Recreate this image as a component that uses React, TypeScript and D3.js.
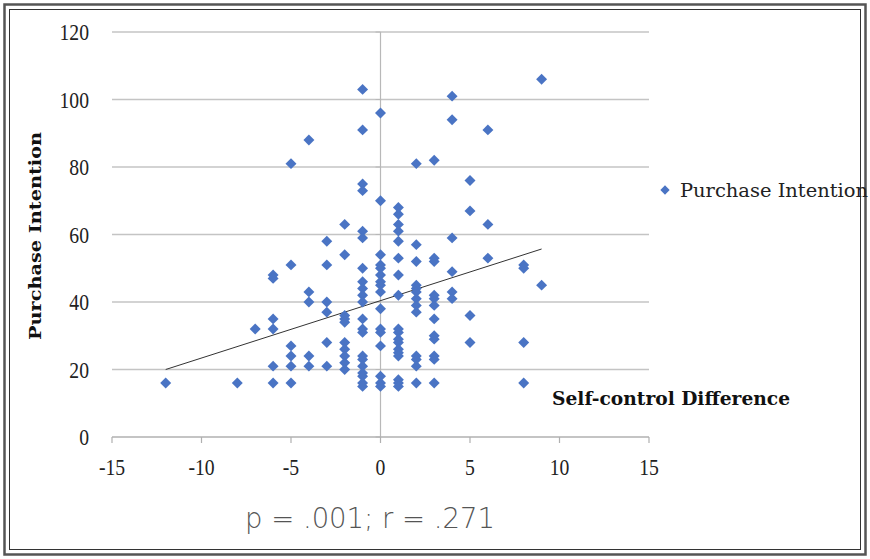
import React from 'react';
import * as d3 from 'd3';

// self-control difference (x) and purchase intention (y), one entry per respondent
const selfControlDiff = [
  -12, -8, -7,
  -6, -6, -6, -6, -6, -6,
  -5, -5, -5, -5, -5, -5,
  -4, -4, -4, -4, -4,
  -3, -3, -3, -3, -3, -3,
  -2, -2, -2, -2, -2, -2, -2, -2, -2, -2,
  -1, -1, -1, -1, -1, -1, -1, -1, -1, -1, -1, -1, -1, -1, -1, -1, -1, -1, -1, -1, -1,
  0, 0, 0, 0, 0, 0, 0, 0, 0, 0, 0, 0, 0, 0, 0, 0,
  1, 1, 1, 1, 1, 1, 1, 1, 1, 1, 1, 1, 1, 1, 1, 1, 1, 1,
  2, 2, 2, 2, 2, 2, 2, 2, 2, 2, 2, 2, 2,
  3, 3, 3, 3, 3, 3, 3, 3, 3, 3, 3, 3,
  4, 4, 4, 4, 4, 4,
  5, 5, 5, 5,
  6, 6, 6,
  8, 8, 8, 8,
  9, 9,
];

const purchaseIntention = [
  16, 16, 32,
  48, 47, 35, 32, 21, 16,
  81, 51, 27, 24, 21, 16,
  88, 43, 40, 24, 21,
  58, 51, 40, 37, 28, 21,
  63, 54, 36, 35, 34, 28, 26, 24, 22, 20,
  103, 91, 75, 73, 61, 59, 50, 46, 44, 42, 40, 35, 32, 31, 24, 23, 21, 19, 18, 16, 15,
  96, 70, 54, 51, 50, 48, 46, 45, 43, 38, 32, 31, 27, 18, 16, 15,
  68, 66, 63, 61, 58, 53, 48, 42, 32, 31, 29, 28, 26, 25, 24, 17, 16, 15,
  81, 57, 52, 45, 44, 43, 41, 39, 37, 24, 23, 21, 16,
  82, 53, 52, 42, 41, 39, 35, 30, 29, 24, 23, 16,
  101, 94, 59, 49, 43, 41,
  76, 67, 36, 28,
  91, 63, 53,
  51, 50, 28, 16,
  106, 45,
];

const xTicks = [-15, -10, -5, 0, 5, 10, 15];
const yTicks = [0, 20, 40, 60, 80, 100, 120];

// linear trendline
const trendRange = [-12, 9];
const trendIntercept = 40.4;
const trendSlope = 1.7;

const statsLabel = 'p = .001; r =  .271';

const App = () => {
  const x = d3.scaleLinear().domain([-15, 15]).range([112, 649]);
  const y = d3.scaleLinear().domain([0, 120]).range([437, 32]);
  const diamond = d3.symbol().type(d3.symbolSquare).size(60)();
  const blue = '#4a74c4';

  const points = selfControlDiff.map((d, i) => ({ d, v: purchaseIntention[i] }));
  const trend = d3.line<number>()
    .x((d) => x(d))
    .y((d) => y(trendIntercept + trendSlope * d));

  return (
    <svg width={870} height={559} style={{ position: 'absolute', left: 0, top: 0, background: '#fff' }}>
      {/* double frame */}
      <rect x={4.5} y={4.5} width={861} height={550} fill="none" stroke="#555" strokeWidth={2.5} />
      <rect x={9.5} y={9.5} width={851} height={540} fill="none" stroke="#333" strokeWidth={1} />

      {/* gridlines */}
      {yTicks.filter((t) => t > 0).map((t) => (
        <line key={t} x1={x(-15)} x2={x(15)} y1={y(t)} y2={y(t)} stroke="#c4c4c4" strokeWidth={1.5} />
      ))}
      {/* vertical axis through zero */}
      <line x1={x(0)} x2={x(0)} y1={y(120)} y2={y(0)} stroke="#b8b8b8" strokeWidth={1.2} />
      {yTicks.map((t) => (
        <line key={'yt' + t} x1={x(0) - 5} x2={x(0)} y1={y(t)} y2={y(t)} stroke="#b8b8b8" strokeWidth={1} />
      ))}
      {/* horizontal axis */}
      <line x1={x(-15)} x2={x(15)} y1={y(0)} y2={y(0)} stroke="#b0b0b0" strokeWidth={1.5} />
      {xTicks.map((t) => (
        <line key={'xt' + t} x1={x(t)} x2={x(t)} y1={y(0)} y2={y(0) + 6} stroke="#b0b0b0" strokeWidth={1.2} />
      ))}

      {/* tick labels, narrow tall serif digits */}
      <g fontFamily="'Liberation Serif', 'Times New Roman', serif" fontSize={24} fill="#222">
        {yTicks.map((t) => (
          <text key={'yl' + t} transform={`translate(89,${y(t) + 8}) scale(0.82,1)`} textAnchor="end">{t}</text>
        ))}
        {xTicks.map((t) => (
          <text key={'xl' + t} transform={`translate(${x(t)},475) scale(0.82,1)`} textAnchor="middle">{t}</text>
        ))}
      </g>

      {/* trendline */}
      <path d={trend(trendRange) || ''} fill="none" stroke="#333" strokeWidth={1} />

      {/* points */}
      {points.map((p, i) => (
        <path key={i} d={diamond} fill={blue}
          transform={`translate(${x(p.d)},${y(p.v)}) rotate(45)`} />
      ))}

      {/* axis titles */}
      <text x={552} y={405} fontFamily="'DejaVu Serif', serif" fontWeight="bold" fontSize={18} fill="#111"
        textLength={238} lengthAdjust="spacingAndGlyphs">
        Self-control Difference
      </text>
      <text transform="translate(41,340) rotate(-90)" fontFamily="'DejaVu Serif', serif" fontWeight="bold" fontSize={17} fill="#111"
        textLength={208} lengthAdjust="spacingAndGlyphs">
        Purchase Intention
      </text>

      {/* legend */}
      <path d={diamond} fill={blue} transform={`translate(665,190) rotate(45) scale(0.85)`} />
      <text x={680} y={197} fontFamily="'DejaVu Serif', serif" fontSize={18.5} fill="#222"
        textLength={188} lengthAdjust="spacingAndGlyphs">Purchase Intention</text>

      {/* statistics note */}
      <text x={245} y={528} fontFamily="'DejaVu Sans', sans-serif" fontWeight={300} fontSize={28} fill="#555"
        textLength={250} lengthAdjust="spacingAndGlyphs">
        {statsLabel}
      </text>
    </svg>
  );
};

export default App;
